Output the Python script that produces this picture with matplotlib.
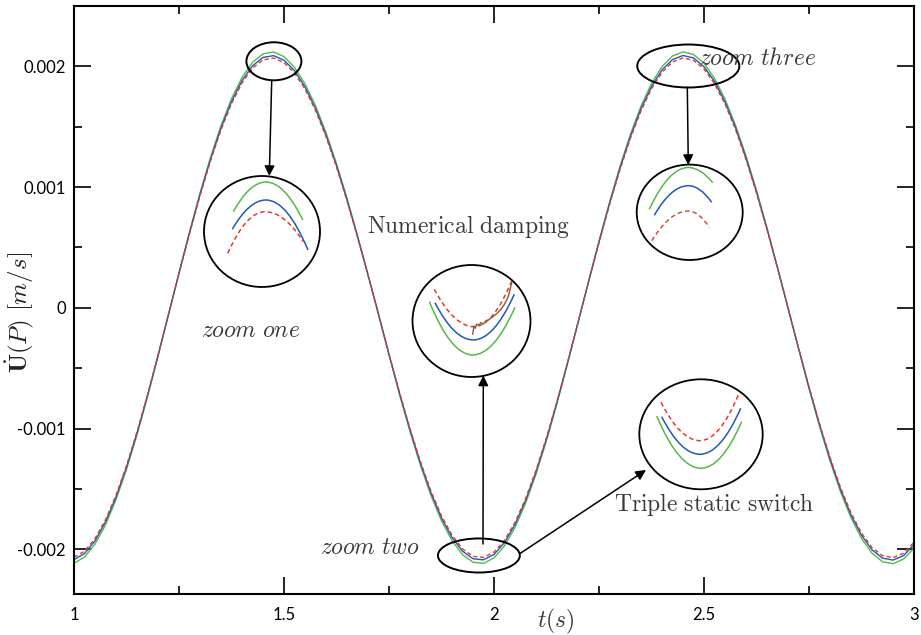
import numpy as np
import matplotlib
matplotlib.use("Agg")
import matplotlib.pyplot as plt                      # noqa: E402
from matplotlib.patches import Ellipse, FancyArrowPatch, PathPatch  # noqa: E402
from matplotlib.path import Path                     # noqa: E402
from matplotlib.ticker import MultipleLocator, FuncFormatter  # noqa: E402

plt.rcParams["mathtext.fontset"] = "cm"
plt.rcParams["axes.unicode_minus"] = False

W, H = 921, 635

GREEN = "#55b947"
BLUE = "#2159b8"
RED = "#e8382d"
BROWN = "#8a5a3a"
TXT = "#3a3a3a"

# time grid [s] and velocity of point P [mm/s] for the three schemes
t = np.linspace(1.0, 3.0, 81)
v_green = [
    -2.115, -2.064, -1.957, -1.798, -1.589, -1.338, -1.052, -0.737, -0.402, -0.056,
    0.291, 0.629, 0.950, 1.246, 1.509, 1.732, 1.908, 2.033, 2.104, 2.119,
    2.081, 1.992, 1.855, 1.674, 1.452, 1.194, 0.908, 0.599, 0.277, -0.054,
    -0.390, -0.717, -1.025, -1.306, -1.555, -1.764, -1.929, -2.044, -2.107, -2.117,
    -2.071, -1.972, -1.820, -1.620, -1.378, -1.099, -0.792, -0.464, -0.124, 0.218,
    0.553, 0.874, 1.172, 1.440, 1.671, 1.858, 1.998, 2.086, 2.120, 2.099,
    2.026, 1.901, 1.729, 1.513, 1.259, 0.973, 0.663, 0.336, 0.000, -0.338,
    -0.668, -0.981, -1.268, -1.523, -1.739, -1.910, -2.032, -2.103, -2.119, -2.081,
    -1.989]
v_blue = [
    -2.085, -2.035, -1.930, -1.772, -1.567, -1.319, -1.037, -0.726, -0.396, -0.055,
    0.287, 0.620, 0.937, 1.229, 1.488, 1.707, 1.881, 2.004, 2.074, 2.089,
    2.051, 1.964, 1.829, 1.650, 1.431, 1.178, 0.895, 0.591, 0.273, -0.054,
    -0.385, -0.707, -1.010, -1.288, -1.533, -1.740, -1.901, -2.015, -2.078, -2.087,
    -2.042, -1.944, -1.794, -1.597, -1.358, -1.084, -0.781, -0.457, -0.122, 0.215,
    0.545, 0.862, 1.156, 1.420, 1.647, 1.832, 1.970, 2.056, 2.090, 2.070,
    1.997, 1.875, 1.705, 1.492, 1.241, 0.959, 0.654, 0.331, 0.000, -0.333,
    -0.659, -0.967, -1.250, -1.502, -1.714, -1.883, -2.004, -2.073, -2.089, -2.052,
    -1.961]
v_red = [
    -2.065, -2.016, -1.911, -1.755, -1.552, -1.307, -1.027, -0.719, -0.392, -0.054,
    0.284, 0.614, 0.928, 1.217, 1.474, 1.691, 1.863, 1.985, 2.054, 2.069,
    2.031, 1.945, 1.812, 1.635, 1.418, 1.166, 0.886, 0.585, 0.270, -0.053,
    -0.381, -0.700, -1.000, -1.275, -1.519, -1.723, -1.883, -1.996, -2.058, -2.067,
    -2.023, -1.925, -1.777, -1.582, -1.345, -1.074, -0.773, -0.453, -0.121, 0.213,
    0.540, 0.854, 1.145, 1.406, 1.631, 1.815, 1.951, 2.036, 2.070, 2.050,
    1.978, 1.857, 1.688, 1.478, 1.229, 0.950, 0.647, 0.328, 0.000, -0.330,
    -0.652, -0.958, -1.238, -1.487, -1.698, -1.865, -1.985, -2.053, -2.069, -2.032,
    -1.942]

# magnified arcs inside the zoom circles: start, apex, end (circle radius = 1)
zoom1_green = [(-0.495, 0.357), (0.069, 0.892), (0.702, 0.207)]
zoom1_blue = [(-0.512, 0.040), (0.069, 0.568), (0.793, -0.333)]
zoom1_red = [(-0.591, -0.393), (0.052, 0.357), (0.712, -0.184)]

zoom2_green = [(-0.714, 0.345), (0.020, -0.607), (0.737, 0.245)]
zoom2_blue = [(-0.619, 0.327), (0.031, -0.339), (0.725, 0.477)]
zoom2_red = [(-0.631, 0.566), (0.042, -0.102), (0.683, 0.720)]
zoom2_noise_u = [0.020, 0.042, 0.064, 0.088, 0.122, 0.161, 0.200, 0.246, 0.285,
                 0.342, 0.398, 0.444, 0.500, 0.551, 0.597, 0.631, 0.653, 0.683]
zoom2_noise_w = [-0.232, -0.089, -0.130, -0.054, -0.077, -0.030, -0.054, 0.005, 0.018,
                 0.059, 0.107, 0.148, 0.209, 0.286, 0.375, 0.464, 0.566, 0.684]

zoom3_green = [(-0.762, 0.063), (-0.026, 0.940), (0.434, 0.621)]
zoom3_blue = [(-0.668, -0.063), (-0.026, 0.558), (0.415, 0.210)]
zoom3_red = [(-0.717, -0.598), (-0.026, 0.027), (0.370, -0.315)]

zoom4_green = [(-0.718, 0.333), (0.000, -0.618), (0.660, 0.230)]
zoom4_blue = [(-0.637, 0.320), (-0.016, -0.364), (0.644, 0.473)]
zoom4_red = [(-0.648, 0.582), (-0.016, -0.116), (0.616, 0.745)]


def fx(x):
    return x / W


def fy(y):
    return 1 - y / H


def arc(axz, pts, color, dashed=False):
    # two half-parabolas meeting at the apex with a flat tangent there
    s, a, e = (np.array(p, dtype=float) for p in pts)
    c1 = ((s[0] + a[0]) / 2, a[1])
    c2 = ((a[0] + e[0]) / 2, a[1])
    path = Path([s, c1, a, c2, e],
                [Path.MOVETO, Path.CURVE3, Path.CURVE3, Path.CURVE3, Path.CURVE3])
    axz.add_patch(PathPatch(path, fill=False, ec=color, lw=1.1,
                            ls=(0, (3, 2)) if dashed else "-", clip_on=False))


def zoom_circle(cx, cy, rx, ry, arcs):
    axz = fig.add_axes([fx(cx - rx), fy(cy + ry), 2 * rx / W, 2 * ry / H])
    axz.set_xlim(-1, 1)
    axz.set_ylim(-1, 1)
    axz.axis("off")
    axz.add_patch(Ellipse((0, 0), 2, 2, fill=False, ec="k", lw=1.3, clip_on=False))
    for pts, col, dashed in arcs:
        arc(axz, pts, col, dashed)
    return axz


def arrow(x0, y0, x1, y1):
    fig.add_artist(FancyArrowPatch((fx(x0), fy(y0)), (fx(x1), fy(y1)),
                                   transform=fig.transFigure, arrowstyle="-|>",
                                   mutation_scale=15, lw=1.1, color="k",
                                   shrinkA=0, shrinkB=0))


fig = plt.figure(figsize=(W / 100, H / 100), dpi=100)
ax = fig.add_axes([fx(74), fy(594), (914 - 74) / W, (594 - 6) / H])

ax.plot(t, np.array(v_green) * 1e-3, color=GREEN, lw=1.0)
ax.plot(t, np.array(v_blue) * 1e-3, color=BLUE, lw=1.0)
ax.plot(t, np.array(v_red) * 1e-3, color=RED, lw=1.0, ls=(0, (3, 2)))

ax.set_xlim(1, 3)
ax.set_ylim(-0.00237, 0.0025)
ax.xaxis.set_major_locator(MultipleLocator(0.5))
ax.xaxis.set_minor_locator(MultipleLocator(0.25))
ax.yaxis.set_major_locator(MultipleLocator(0.001))
ax.yaxis.set_minor_locator(MultipleLocator(0.0005))
fmt = FuncFormatter(lambda v, _: f"{round(v, 6) + 0:g}")
ax.xaxis.set_major_formatter(fmt)
ax.yaxis.set_major_formatter(fmt)
ax.tick_params(which="both", direction="in", top=True, right=True, width=1.2,
               labelsize=12)
ax.tick_params(which="major", length=12)
ax.tick_params(which="minor", length=6)
ax.tick_params(axis="x", pad=9)
ax.tick_params(axis="y", pad=6)
for lab in ax.get_xticklabels() + ax.get_yticklabels():
    lab.set_fontfamily("Lato")
for s in ax.spines.values():
    s.set_linewidth(1.5)

# marked regions on the curves
for (tc, vc, w, h) in [(1.476, 0.002042, 0.131, 0.000315),
                       (2.4626, 0.002003, 0.243, 0.000356),
                       (1.964, -0.002051, 0.195, 0.000282)]:
    ax.add_patch(Ellipse((tc, vc), w, h, fill=False, ec="k", lw=1.4, zorder=5))

zoom_circle(262, 231.5, 58, 55.5,
            [(zoom1_green, GREEN, False), (zoom1_blue, BLUE, False), (zoom1_red, RED, True)])
z2 = zoom_circle(471.5, 321, 59, 56,
                 [(zoom2_green, GREEN, False), (zoom2_blue, BLUE, False), (zoom2_red, RED, True)])
z2.plot(zoom2_noise_u, zoom2_noise_w, color=BROWN, lw=1.0, clip_on=False)
zoom_circle(689.7, 212.3, 53, 47.7,
            [(zoom3_green, GREEN, False), (zoom3_blue, BLUE, False), (zoom3_red, "#c8553f", True)])
zoom_circle(701, 434.3, 61.7, 55,
            [(zoom4_green, GREEN, False), (zoom4_blue, BLUE, False), (zoom4_red, RED, True)])

arrow(271.7, 80.5, 269.3, 176)
arrow(687.3, 87.3, 688.3, 165)
arrow(483, 544, 483.3, 375.5)
arrow(520, 553.5, 646, 470)

kw = dict(fontsize=17, color=TXT, va="center")
fig.text(fx(251), fy(330), r"$zoom\ one$", ha="center", **kw)
fig.text(fx(370), fy(547), r"$zoom\ two$", ha="center", **kw)
fig.text(fx(699), fy(58), r"$zoom\ three$", ha="left", **kw)
fig.text(fx(469), fy(226), r"$\mathrm{Numerical\ damping}$", ha="center", **kw)
fig.text(fx(714), fy(504), r"$\mathrm{Triple\ static\ switch}$", ha="center", **kw)
fig.text(fx(556), fy(621), r"$t(s)$", ha="center", **kw)
fig.text(fx(20), fy(312), r"$\dot{\mathbf{U}}(P)\ [m/s]$", ha="center",
         rotation=90, fontsize=18, color="#222222", va="center")

fig.savefig("out.png", dpi=100, facecolor="white")
